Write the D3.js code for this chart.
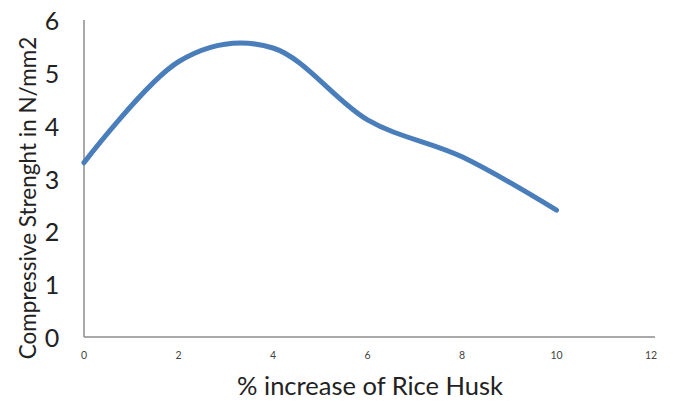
<!DOCTYPE html>
<html>
<head>
<meta charset="utf-8">
<script src="https://cdn.jsdelivr.net/npm/d3@7"></script>
<style>
  body { margin: 0; background: #fff; }
  svg { display: block; }
  text { font-family: Lato, "Open Sans", sans-serif; fill: #222; }
</style>
</head>
<body>
<svg id="chart" width="673" height="403"></svg>
<script>
// Rice husk content (%) and the measured compressive strength (N/mm2)
const huskPercent = [0, 2, 4, 6, 8, 10];
const strength = [3.3, 5.21, 5.47, 4.11, 3.41, 2.4];
const xTicks = [0, 2, 4, 6, 8, 10, 12];
const yTicks = [0, 1, 2, 3, 4, 5, 6];

const svg = d3.select("#chart");
const x = d3.scaleLinear().domain([0, 12]).range([84, 651]);
const y = d3.scaleLinear().domain([0, 6]).range([337, 20]);

// Axis lines
svg.append("line")
  .attr("x1", x(0)).attr("x2", x(0))
  .attr("y1", y(6)).attr("y2", y(0))
  .attr("stroke", "#8c8c8c").attr("stroke-width", 1.5);
svg.append("line")
  .attr("x1", x(0)).attr("x2", x(12) + 4)
  .attr("y1", y(0)).attr("y2", y(0))
  .attr("stroke", "#8c8c8c").attr("stroke-width", 1.5);

// Tick labels
svg.append("g").selectAll("text").data(yTicks).join("text")
  .attr("x", 52).attr("y", d => y(d))
  .attr("text-anchor", "middle").attr("dominant-baseline", "central")
  .style("font-size", "25px")
  .text(d => d);
svg.append("g").selectAll("text").data(xTicks).join("text")
  .attr("x", d => x(d)).attr("y", y(0) + 18)
  .attr("text-anchor", "middle").attr("dominant-baseline", "central")
  .style("font-size", "10.5px").style("fill", "#444")
  .text(d => d);

// Axis titles
svg.append("text")
  .attr("x", 370).attr("y", 385)
  .attr("text-anchor", "middle").attr("dominant-baseline", "central")
  .style("font-size", "25.5px")
  .text("% increase of Rice Husk");
svg.append("text")
  .attr("transform", "translate(27,198) rotate(-90)")
  .attr("text-anchor", "middle").attr("dominant-baseline", "central")
  .style("font-size", "22.5px")
  .text("Compressive Strenght in N/mm2");

// Smoothed strength curve
const line = d3.line()
  .x((d, i) => x(huskPercent[i]))
  .y(d => y(d))
  .curve(d3.curveCardinal.tension(0));
svg.append("path")
  .datum(strength)
  .attr("d", line)
  .attr("fill", "none")
  .attr("stroke", "#4a7ebb")
  .attr("stroke-width", 5)
  .attr("stroke-linecap", "round");
</script>
</body>
</html>
